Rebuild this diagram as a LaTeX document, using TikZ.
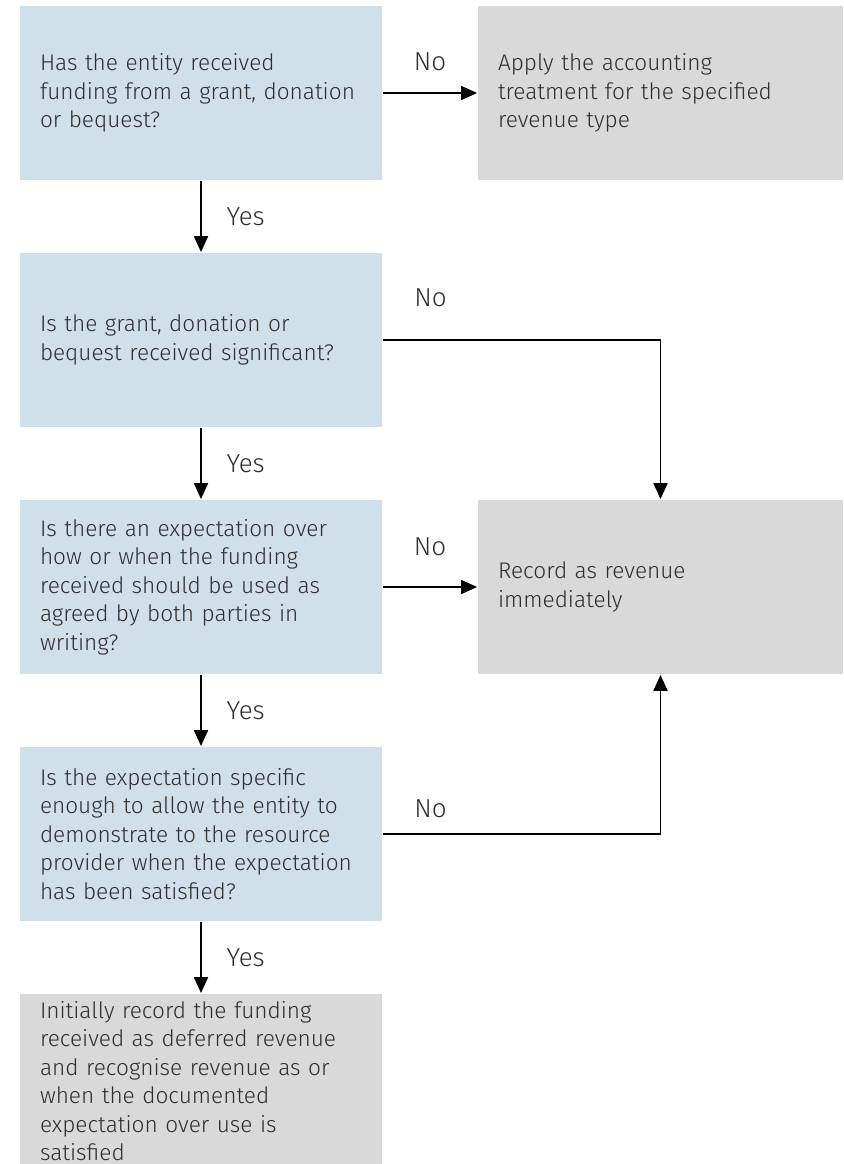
\documentclass[tikz,border=0pt]{standalone}
\usepackage{fontspec}
\setmainfont{Fira Sans Light}
\usepackage{xcolor}
\usetikzlibrary{arrows.meta,positioning}
\definecolor{qblue}{HTML}{CFE0EA}
\definecolor{rgrey}{HTML}{D9D9D9}
\definecolor{txt}{HTML}{2E2E2E}

\begin{document}
\begin{tikzpicture}[>={Triangle[length=8pt,width=7pt]},line width=0.9pt,node distance=123.5pt,on grid,text=txt,
        box/.style={minimum height=87pt,inner xsep=10pt,inner ysep=0pt,align=left,font=\fontsize{11.3}{14.25}\selectfont},
        q/.style={box,fill=qblue,text width=161pt,minimum width=181pt},
        r/.style={box,fill=rgrey,text width=162.5pt,minimum width=182.5pt},
        yes/.style={right=9pt}]
        \useasboundingbox (0,0) rectangle (421.5pt,-582pt);
        \node[q] (1) at (100.5pt,-46.5pt) {Has the entity received\\funding from a grant, donation\\or bequest?};
        \node[r] (2) [right=229.75pt of 1] {Apply the accounting\\treatment for the specified\\revenue type};
        \node[q] (3) [below of=1] {Is the grant, donation or\\bequest received significant?};
        \node[q] (4) [below of=3] {Is there an expectation over\\how or when the funding\\received should be used as\\agreed by both parties in\\writing?};
        \node[r] (5) [right=229.75pt of 4] {Record as revenue\\immediately};
        \node[q] (6) [below of=4] {Is the expectation specific\\enough to allow the entity to\\demonstrate to the resource\\provider when the expectation\\has been satisfied?};
        \node[q,fill=rgrey] (7) [below of=6] {Initially record the funding\\received as deferred revenue\\and recognise revenue as or\\when the documented\\expectation over use is\\satisfied};
        \tikzset{every node/.style={font=\fontsize{13}{15}\selectfont}}
        \path[->] (1) edge node[above=7.5pt] {No} (2)
                (1) edge node[yes] {Yes} (3)
                (3) edge node[yes] {Yes} (4)
                (4) edge node[above=12pt] {No} (5)
                (4) edge node[yes] {Yes} (6)
                (6) edge node[yes] {Yes} (7);
        \draw[->] (3.east) -| node[pos=0.086,above=13pt] {No} (5.north);
        \draw[->] (6.east) -| node[pos=0.086,above=4.5pt] {No} (5.south);
    \end{tikzpicture}
\end{document}
